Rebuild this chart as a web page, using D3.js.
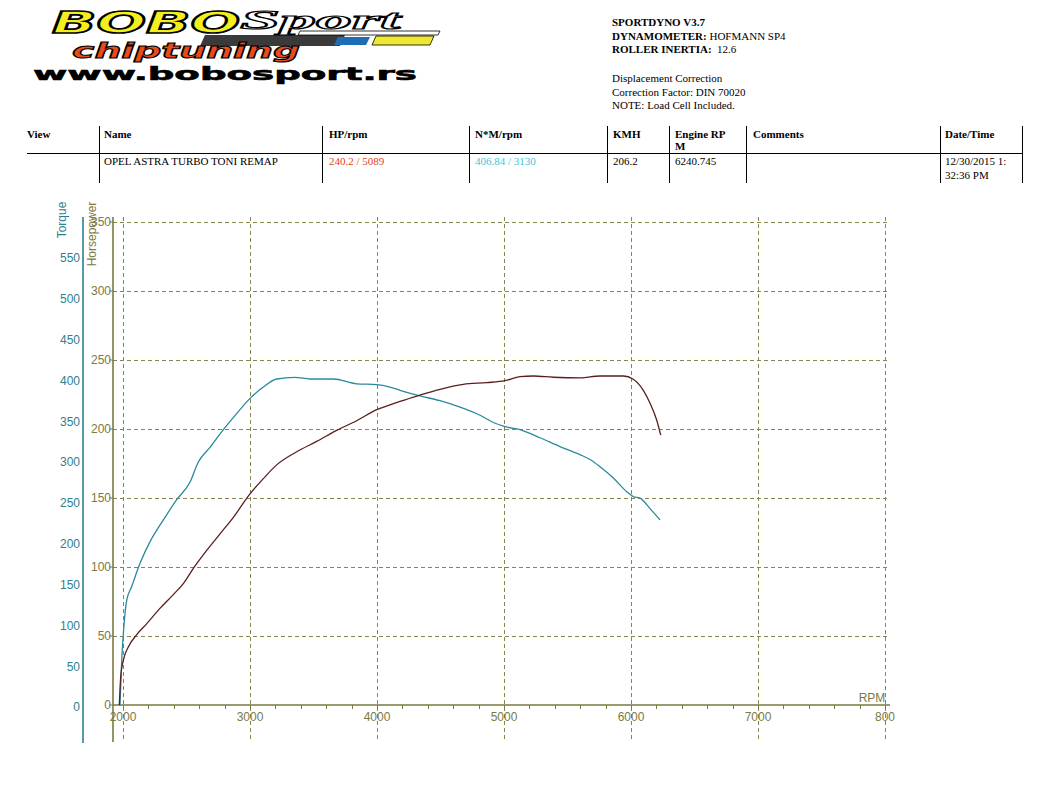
<!DOCTYPE html>
<html><head><meta charset="utf-8">
<script src="https://cdn.jsdelivr.net/npm/d3@7"></script>
<style>html,body{margin:0;padding:0;background:#fff;}</style>
</head><body>
<svg id="c" width="1052" height="812"></svg>
<script>
// ---- data ----
const rpmTicks = [2000, 3000, 4000, 5000, 6000, 7000, 8000];
const hpTicks = [0, 50, 100, 150, 200, 250, 300, 350];
const torqueTicks = [0, 50, 100, 150, 200, 250, 300, 350, 400, 450, 500, 550];

const powerRpm = [1971,1982,2003,2042,2108,2187,2291,2396,2475,2554,2659,2764,2869,3000,3105,3210,3368,3525,3682,3840,3998,4102,4181,4339,4496,4680,4864,5008,5126,5231,5388,5598,5756,5940,6018,6097,6150,6202,6234];
const powerHp  = [0,20.5,32.6,42,51,59,70,80,88,99,112,124,136,153,164,174,183.5,191,199,206,214,217.5,220,224.6,228.8,232.4,233.6,235,238,238.4,237.5,237,238.4,238.4,236,228,218.6,206.5,195.6];

const torqueRpm = [1976,1990,2003,2029,2068,2134,2213,2318,2423,2528,2593,2685,2790,2895,3000,3105,3210,3354,3472,3656,3840,3998,4102,4181,4339,4496,4654,4811,4916,5008,5126,5283,5441,5598,5677,5756,5861,5966,6018,6071,6150,6228];
const torqueNm  = [2,57.7,90.2,130.6,147.4,176,202.6,229.2,253.9,275.6,300.2,318,339.7,359.4,378.1,391.9,401.8,403.8,401.8,401.8,395.9,394.9,391.9,388,381.1,375.2,367.3,357.4,348.5,343.6,339.7,329.8,319,309.1,303.2,294.3,280.5,263.8,257.8,255.9,243,229.2];

const headerCols = ["View","Name","HP/rpm","N*M/rpm","KMH","Engine RP","Comments","Date/Time"];
const rowValues = ["", "OPEL ASTRA TURBO TONI REMAP", "240.2 / 5089", "406.84 / 3130", "206.2", "6240.745", "", "12/30/2015 1:"];
const infoLines = [
  ["SPORTDYNO V3.7", ""],
  ["DYNAMOMETER:", " HOFMANN SP4"],
  ["ROLLER INERTIA:", "  12.6"],
  ["", ""],
  ["", "Displacement Correction"],
  ["", "Correction Factor: DIN 70020"],
  ["", "NOTE: Load Cell Included."]
];

// ---- drawing ----
const svg = d3.select("#c");
const serif = "'Liberation Serif','Times New Roman',serif";
const sans = "'Liberation Sans',Arial,sans-serif";
const olive = "#7a7a42", grid = "#85854c", teal = "#2e7f90";

// logo
const logo = svg.append("g");
logo.append("polygon").attr("points","205,35 345,35 340,46 200,46").attr("fill","#3a3a3a");
logo.append("polygon").attr("points","300,31 440,31 438,35 298,35").attr("fill","#fff").attr("stroke","#000").attr("stroke-width",0.8);
logo.append("polygon").attr("points","338,37 370,37 366,45 334,45").attr("fill","#1f6db5");
logo.append("polygon").attr("points","376,36 434,36 430,45 372,45").attr("fill","#eee832").attr("stroke","#000").attr("stroke-width",0.8);
logo.append("text").text("BOBO").attr("x",52).attr("y",33)
  .attr("font-family","'DejaVu Sans',sans-serif").attr("font-weight","bold").attr("font-style","italic")
  .attr("font-size",30).attr("textLength",188).attr("lengthAdjust","spacingAndGlyphs")
  .attr("fill","#f3ef1f").attr("stroke","#000").attr("stroke-width",1.6);
logo.append("text").text("Sport").attr("x",240).attr("y",29)
  .attr("font-family",serif).attr("font-style","italic").attr("font-weight","bold")
  .attr("font-size",28).attr("textLength",160).attr("lengthAdjust","spacingAndGlyphs")
  .attr("fill","#fff").attr("stroke","#000").attr("stroke-width",1.2);
logo.append("text").text("chiptuning").attr("x",72).attr("y",58)
  .attr("font-family","'DejaVu Sans',sans-serif").attr("font-weight","bold").attr("font-style","italic")
  .attr("font-size",21).attr("textLength",228).attr("lengthAdjust","spacingAndGlyphs")
  .attr("fill","#e84a1c").attr("stroke","#000").attr("stroke-width",1);
logo.append("text").text("www.bobosport.rs").attr("x",33).attr("y",80)
  .attr("font-family","'DejaVu Sans',sans-serif").attr("font-weight","bold")
  .attr("font-size",18).attr("textLength",384).attr("lengthAdjust","spacingAndGlyphs")
  .attr("fill","#000").attr("stroke","#000").attr("stroke-width",0.6);

// info block
const infoY = [26, 40, 53, 67, 82, 96, 109];
infoLines.forEach((l, i) => {
  if (!l[0] && !l[1]) return;
  const t = svg.append("text").attr("x",612).attr("y",infoY[i])
    .attr("font-family",serif).attr("font-size",11).attr("fill","#000");
  if (l[0]) t.append("tspan").attr("font-weight","bold").text(l[0]);
  if (l[1]) t.append("tspan").style("white-space","pre").text(l[1]);
});

// table
const colX = [27, 104, 329, 475, 613, 675, 753, 945];
const sepX = [99, 322, 469, 607, 669, 746, 940, 1022];
svg.append("line").attr("x1",27).attr("x2",1022).attr("y1",153.5).attr("y2",153.5).attr("stroke","#000");
sepX.forEach(x => svg.append("line").attr("x1",x+0.5).attr("x2",x+0.5).attr("y1",126).attr("y2",183).attr("stroke","#000"));
headerCols.forEach((h, i) => {
  svg.append("text").attr("x",colX[i]).attr("y",138).attr("font-family",serif)
    .attr("font-weight","bold").attr("font-size",11).text(h);
});
svg.append("text").attr("x",675).attr("y",150).attr("font-family",serif).attr("font-weight","bold").attr("font-size",11).text("M");
const rowColors = ["#000","#000","#e0401c","#3cc6d8","#000","#000","#000","#000"];
rowValues.forEach((v, i) => {
  if (!v) return;
  svg.append("text").attr("x",colX[i]).attr("y",165).attr("font-family",serif)
    .attr("font-size",11).attr("fill",rowColors[i]).text(v);
});
svg.append("text").attr("x",945).attr("y",179).attr("font-family",serif).attr("font-size",11).text("32:36 PM");

// scales
const x = d3.scaleLinear().domain([2000, 8000]).range([123, 885]);
const yHp = d3.scaleLinear().domain([0, 350]).range([705, 222]);
const yTq = d3.scaleLinear().domain([0, 600]).range([707, 217.2]);

// grid
const g = svg.append("g");
rpmTicks.forEach(r => g.append("line").attr("x1",Math.round(x(r))+0.5).attr("x2",Math.round(x(r))+0.5)
  .attr("y1",217).attr("y2",742).attr("stroke",grid).attr("stroke-dasharray","4,3"));
hpTicks.slice(1).forEach(v => g.append("line").attr("x1",113).attr("x2",890)
  .attr("y1",Math.round(yHp(v))+0.5).attr("y2",Math.round(yHp(v))+0.5)
  .attr("stroke",grid).attr("stroke-dasharray","4,3"));

// axes lines
svg.append("line").attr("x1",83).attr("x2",83).attr("y1",217).attr("y2",743).attr("stroke",teal).attr("stroke-width",1.6);
svg.append("line").attr("x1",113).attr("x2",113).attr("y1",217).attr("y2",742).attr("stroke",olive).attr("stroke-width",1.6);
svg.append("line").attr("x1",113).attr("x2",890).attr("y1",705).attr("y2",705).attr("stroke",olive).attr("stroke-width",1.6);

// x minor ticks
d3.range(2000, 8001, 200).forEach(r => svg.append("line")
  .attr("x1",Math.round(x(r))+0.5).attr("x2",Math.round(x(r))+0.5).attr("y1",705).attr("y2",709)
  .attr("stroke",olive));
// hp ticks
hpTicks.forEach(v => svg.append("line").attr("x1",109).attr("x2",113)
  .attr("y1",yHp(v)).attr("y2",yHp(v)).attr("stroke",olive));

// labels
rpmTicks.forEach(r => svg.append("text").attr("x",x(r)).attr("y",721).attr("text-anchor","middle")
  .attr("font-family",sans).attr("font-size",12).attr("fill",olive).text(r === 8000 ? "800" : r));
hpTicks.forEach(v => svg.append("text").attr("x",111).attr("y",yHp(v)).attr("dy","0.36em").attr("text-anchor","end")
  .attr("font-family",sans).attr("font-size",12).attr("fill",olive).text(v));
torqueTicks.forEach(v => svg.append("text").attr("x",80).attr("y",yTq(v)).attr("dy","0.36em").attr("text-anchor","end")
  .attr("font-family",sans).attr("font-size",12).attr("fill",teal).text(v));
svg.append("text").attr("transform","translate(66,220) rotate(-90)").attr("text-anchor","middle")
  .attr("font-family",sans).attr("font-size",12).attr("fill",teal).text("Torque");
svg.append("text").attr("transform","translate(96,234) rotate(-90)").attr("text-anchor","middle")
  .attr("font-family",sans).attr("font-size",12).attr("fill",olive).text("Horsepower");
svg.append("text").attr("x",872).attr("y",702).attr("text-anchor","middle")
  .attr("font-family",sans).attr("font-size",12).attr("fill",olive).text("RPM");

// curves
const tqData = torqueRpm.map((r, i) => [r, torqueNm[i]]);
const hpData = powerRpm.map((r, i) => [r, powerHp[i]]);
svg.append("path").datum(tqData)
  .attr("d", d3.line().x(d => x(d[0])).y(d => yTq(d[1])).curve(d3.curveMonotoneX))
  .attr("fill","none").attr("stroke","#2a8a9c").attr("stroke-width",1.3);
svg.append("path").datum(hpData)
  .attr("d", d3.line().x(d => x(d[0])).y(d => yHp(d[1])).curve(d3.curveMonotoneX))
  .attr("fill","none").attr("stroke","#5a1e1e").attr("stroke-width",1.3);
</script>
</body></html>
